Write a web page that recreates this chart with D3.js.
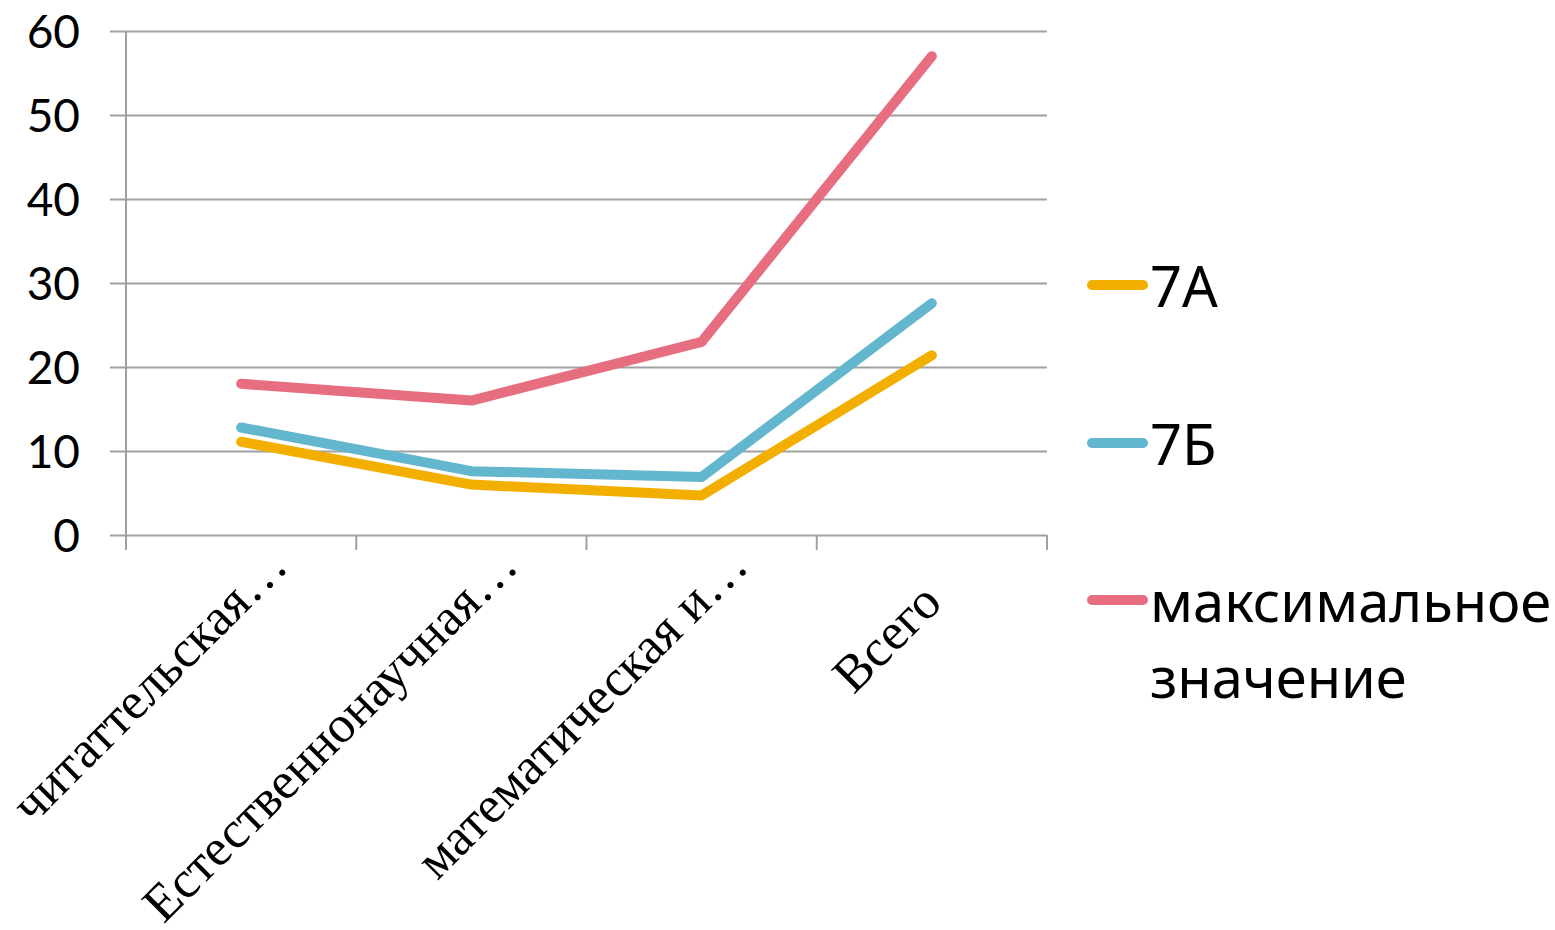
<!DOCTYPE html>
<html>
<head>
<meta charset="utf-8">
<script src="https://cdn.jsdelivr.net/npm/d3@7"></script>
<style>
  html, body { margin: 0; padding: 0; background: #fff; }
  svg { display: block; }
</style>
</head>
<body>
<svg id="chart" width="1555" height="930"></svg>
<script>
const categories = ["читаттельская…", "Естественнонаучная…", "математическая и…", "Всего"];
const seriesNames = ["7А", "7Б", "максимальное значение"];
const values7A = [11.1, 6.0, 4.7, 21.4];
const values7B = [12.8, 7.6, 6.9, 27.6];
const valuesMax = [18.0, 16.0, 23.0, 57.0];
const yTicks = [0, 10, 20, 30, 40, 50, 60];
const colors = ["#F2AF00", "#62B6CD", "#E76E80"];

const series = [
  { name: seriesNames[0], values: values7A, color: colors[0] },
  { name: seriesNames[1], values: values7B, color: colors[1] },
  { name: seriesNames[2], values: valuesMax, color: colors[2] }
];

const svg = d3.select("#chart");
const plot = { left: 126, right: 1047, top: 31, bottom: 535 };

const x = d3.scaleBand().domain(categories).range([plot.left, plot.right]).paddingInner(0).paddingOuter(0);
const y = d3.scaleLinear().domain([0, 60]).range([plot.bottom, plot.top]);
const cx = c => x(c) + x.bandwidth() / 2;

const gridColor = "#A0A0A0";

// Horizontal gridlines with left tick extension
const yAxis = d3.axisLeft(y).tickValues(yTicks).tickSize(-(plot.right - plot.left)).tickFormat("");
const gy = svg.append("g").attr("transform", `translate(${plot.left},0)`).call(yAxis);
gy.select(".domain").remove();
gy.selectAll(".tick line").attr("x1", -16).attr("stroke", gridColor).attr("stroke-width", 2);

// Y labels
svg.append("g").selectAll("text").data(yTicks).join("text")
  .attr("x", 80).attr("y", d => y(d))
  .attr("dy", "0.36em")
  .attr("text-anchor", "end")
  .attr("font-family", "Lato, 'Noto Sans', sans-serif")
  .attr("font-size", 46)
  .attr("fill", "#000")
  .text(d => d);

// Vertical axis line
svg.append("line")
  .attr("x1", plot.left).attr("x2", plot.left)
  .attr("y1", plot.top).attr("y2", plot.bottom + 15)
  .attr("stroke", gridColor).attr("stroke-width", 2);

// X axis ticks at band boundaries
const gx = svg.append("g").attr("transform", `translate(0,${plot.bottom})`);
const bounds = categories.map(c => x(c)).concat([x.range()[1]]);
gx.selectAll("line").data(bounds).join("line")
  .attr("x1", d => d).attr("x2", d => d).attr("y1", 0).attr("y2", 15)
  .attr("stroke", gridColor).attr("stroke-width", 2);

// X labels: rotated -45, end anchored (ellipsis appended after anchor)
const labelFont = "'Liberation Serif', 'Times New Roman', serif";
const xl = svg.append("g").selectAll("g").data(categories).join("g")
  .attr("transform", d => `translate(${cx(d) + 12},${plot.bottom + 70}) rotate(-45)`);
xl.append("text")
  .attr("text-anchor", "end")
  .attr("font-family", labelFont)
  .attr("font-size", 52)
  .attr("fill", "#000")
  .text(d => d.replace(/…$/, ""));
xl.filter(d => d.endsWith("…")).append("text")
  .attr("text-anchor", "start")
  .attr("font-family", labelFont)
  .attr("font-size", 52)
  .attr("fill", "#000")
  .text("…");

// Lines
const line = d3.line().x((d, i) => cx(categories[i])).y(d => y(d));
svg.append("g").selectAll("path").data(series).join("path")
  .attr("d", d => line(d.values))
  .attr("fill", "none")
  .attr("stroke", d => d.color)
  .attr("stroke-width", 10)
  .attr("stroke-linecap", "round")
  .attr("stroke-linejoin", "round");

// Legend
const legendFont = "'Noto Sans', 'Open Sans', sans-serif";
const legendY = [285, 443, 600];
const lg = svg.append("g").selectAll("g").data(series).join("g")
  .attr("transform", (d, i) => `translate(1092,${legendY[i]})`);
lg.append("line")
  .attr("x1", 0).attr("x2", 51).attr("y1", 0).attr("y2", 0)
  .attr("stroke", d => d.color).attr("stroke-width", 10).attr("stroke-linecap", "round");
lg.append("text")
  .attr("x", 58).attr("y", 22)
  .attr("font-family", legendFont)
  .attr("font-size", 56)
  .attr("fill", "#000")
  .each(function(d) {
    const words = d.name.split(" ");
    const t = d3.select(this);
    words.forEach((w, k) => {
      t.append("tspan").attr("x", 58).attr("dy", k === 0 ? 0 : 76).text(w);
    });
  });
</script>
</body>
</html>
